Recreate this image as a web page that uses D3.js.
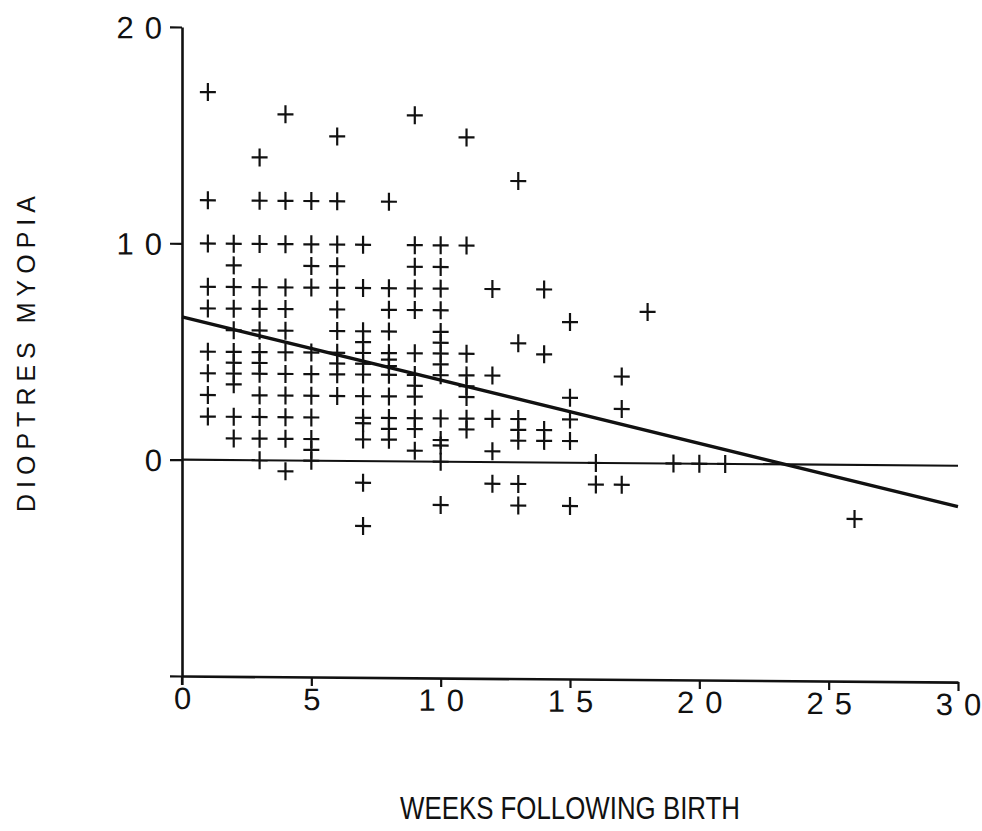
<!DOCTYPE html>
<html>
<head>
<meta charset="utf-8">
<script src="https://cdn.jsdelivr.net/npm/d3@7"></script>
<style>
  html, body { margin: 0; padding: 0; background: #fff; }
  svg { display: block; }
  text { font-family: "Liberation Sans", Arial, sans-serif; fill: #111; }
</style>
</head>
<body>
<svg id="chart" width="982" height="831"></svg>
<script>
// Refraction readings (dioptres of myopia) by age in weeks after birth
const weekColumns = [1, 2, 3, 4, 5, 6, 7, 8, 9, 10, 11, 12, 13, 14, 15, 16, 17, 18, 19, 20, 21, 26];
const dioptreColumns = [
  [17, 12, 10, 8, 7, 5, 4, 3, 2],
  [10, 9, 8, 7, 6, 5, 4.5, 4, 3.5, 2, 1],
  [14, 12, 10, 8, 7, 6, 5, 4.5, 4, 3, 2, 1, 0],
  [16, 12, 10, 8, 7, 6, 5, 4, 3, 2, 1, -0.5],
  [12, 10, 9, 8, 5, 4, 3, 2, 1, 0.5, 0],
  [15, 12, 10, 9, 8, 7, 6, 5, 4.5, 4, 3],
  [10, 8, 6, 5.5, 5, 4.5, 4, 3, 2, 1.75, 1, -1, -3],
  [12, 8, 7, 6, 5, 4.7, 4.4, 4, 3, 2, 1.5, 1],
  [16, 10, 9, 8, 7, 5, 4, 3.5, 3, 2, 1.5, 0.5],
  [10, 9, 8, 7, 6, 5.5, 5, 4.5, 4, 2, 1, 0.75, 0, -2],
  [15, 10, 5, 4, 3.5, 3, 2, 1.5],
  [8, 4, 2, 0.5, -1],
  [13, 5.5, 2, 1.5, 1, -1, -2],
  [8, 5, 1.5, 1],
  [6.5, 3, 2, 1, -2],
  [0, -1],
  [4, 2.5, -1],
  [7],
  [0],
  [0],
  [0],
  [-2.5]
];

// Least-squares fit drawn across the whole week range
const fitIntercept = 6.6;
const fitSlope = -0.283;

const xTicks = [0, 5, 10, 15, 20, 25, 30];
const yTicks = [-10, 0, 10, 20];
const yTickLabels = ["", "0", "10", "20"];
const xTitle = "WEEKS FOLLOWING BIRTH";
const yTitle = "DIOPTRES MYOPIA";

const points = [];
weekColumns.forEach((w, i) => dioptreColumns[i].forEach(v => points.push({ week: w, dioptres: v })));

const svg = d3.select("#chart");

const x = d3.scaleLinear().domain([0, 30]).range([182, 958]);
const y = d3.scaleLinear().domain([-10, 20]).range([676, 27]);

// slight downward slant of the whole figure toward the right
const g = svg.append("g")
  .attr("transform", `translate(182,460) skewY(0.45) translate(-182,-460)`);

const digitGap = 11;

// write a number with widely spaced digits, without trailing space
function spacedDigits(sel) {
  sel.each(function () {
    const t = d3.select(this);
    const s = t.text();
    t.text(null);
    s.split("").forEach((ch, i) => t.append("tspan").attr("dx", i ? digitGap : 0).text(ch));
  });
}

// axes
const xAxis = g.append("g")
  .attr("transform", `translate(0,${y(-10)})`)
  .call(d3.axisBottom(x).tickValues(xTicks).tickSize(9).tickSizeOuter(0).tickFormat(d3.format("d")));
const yAxis = g.append("g")
  .attr("transform", `translate(${x(0)},0)`)
  .call(d3.axisLeft(y).tickValues(yTicks).tickSize(12).tickSizeOuter(0)
    .tickFormat((d, i) => yTickLabels[i]));

[xAxis, yAxis].forEach(a => {
  a.selectAll("path.domain").attr("stroke", "#111").attr("stroke-width", 2.6);
  a.selectAll(".tick line").attr("stroke", "#111").attr("stroke-width", 2.2);
  a.selectAll(".tick text")
    .attr("font-family", "Liberation Sans, Arial, sans-serif")
    .attr("font-size", 31)
    .attr("fill", "#111")
    .call(spacedDigits);
});

// extend the value axis line a little below the week axis
g.append("line")
  .attr("x1", x(0)).attr("x2", x(0))
  .attr("y1", y(-10)).attr("y2", y(-10) + 9)
  .attr("stroke", "#111").attr("stroke-width", 2.2);

xAxis.selectAll(".tick text").attr("y", 11).attr("dy", "0.71em");
yAxis.selectAll(".tick text").attr("x", -20).attr("dy", "0.36em");

// zero reference line
g.append("line")
  .attr("x1", x(0)).attr("x2", x(30))
  .attr("y1", y(0)).attr("y2", y(0))
  .attr("stroke", "#111").attr("stroke-width", 2.2);

// fitted line
g.append("line")
  .attr("x1", x(0)).attr("x2", x(30))
  .attr("y1", y(fitIntercept)).attr("y2", y(fitIntercept + fitSlope * 30))
  .attr("stroke", "#111").attr("stroke-width", 3.4);

// plus-sign markers
const marks = g.append("g").attr("stroke", "#111").attr("stroke-width", 2.2);
const mk = marks.selectAll("g.pt").data(points).join("g")
  .attr("class", "pt")
  .attr("transform", d => `translate(${x(d.week)},${y(d.dioptres)})`);
mk.append("line").attr("x1", -8).attr("x2", 8).attr("y1", 0).attr("y2", 0);
mk.append("line").attr("x1", 0).attr("x2", 0).attr("y1", -9).attr("y2", 9);

// axis titles
svg.append("text")
  .attr("x", 570).attr("y", 819)
  .attr("text-anchor", "middle")
  .attr("font-size", 32)
  .attr("textLength", 340)
  .attr("lengthAdjust", "spacingAndGlyphs")
  .text(xTitle);

svg.append("text")
  .attr("transform", "translate(35,354) rotate(-90)")
  .attr("text-anchor", "middle")
  .attr("font-size", 25)
  .attr("textLength", 316)
  .attr("lengthAdjust", "spacing")
  .text(yTitle);
</script>
</body>
</html>
